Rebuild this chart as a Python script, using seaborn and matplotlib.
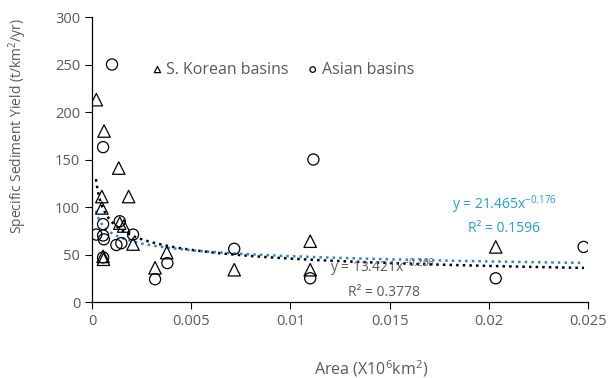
import numpy as np
import pandas as pd
import seaborn as sns
import matplotlib.pyplot as plt

# S. Korean basins (triangles)
kor_area = [0.00022, 0.00061, 0.00135, 0.0005, 0.00185, 0.0005, 0.0014, 0.0016,
            0.00207, 0.00056, 0.00058, 0.00377, 0.00318, 0.00717, 0.0110, 0.0110, 0.02035]
kor_yield = [213, 180, 141, 111, 111, 99, 83, 80,
             61, 48, 45, 52, 36, 34, 64, 34, 58]

# Asian basins (circles)
asia_area = [0.00101, 0.00056, 0.00056, 0.0014, 0.00022, 0.00056, 0.0006, 0.00123, 0.00148,
             0.00207, 0.00056, 0.0038, 0.00318, 0.00717, 0.0110, 0.01116, 0.02035, 0.02478]
asia_yield = [250, 163, 82, 85, 71, 70, 66, 60, 62,
              71, 47, 41, 24, 56, 25, 150, 25, 58]

# power-law trend lines
fit_black = (13.421, -0.266)
fit_blue = (21.465, -0.176)
fit_range = (0.0002, 0.0248)

xticks = [0, 0.005, 0.01, 0.015, 0.02, 0.025]
xtick_labels = ['0', '0.005', '0.01', '0.015', '0.02', '0.025']
yticks = [0, 50, 100, 150, 200, 250, 300]

sns.set_style('white')
plt.rcParams['font.family'] = ['Open Sans', 'DejaVu Sans']
plt.rcParams['mathtext.fontset'] = 'custom'
plt.rcParams['mathtext.rm'] = 'Open Sans'
plt.rcParams['mathtext.it'] = 'Open Sans'

gray = '#595959'
blue = '#1F9FDC'

kor = pd.DataFrame({'area': kor_area, 'ssy': kor_yield})
asia = pd.DataFrame({'area': asia_area, 'ssy': asia_yield})

xs = np.linspace(fit_range[0], fit_range[1], 300)
line_black = pd.DataFrame({'area': xs, 'ssy': fit_black[0] * xs ** fit_black[1]})
line_blue = pd.DataFrame({'area': xs, 'ssy': fit_blue[0] * xs ** fit_blue[1]})

fig, ax = plt.subplots(figsize=(6.09, 3.78), dpi=100)
fig.subplots_adjust(left=0.151, right=0.9655, top=0.955, bottom=0.201)

sns.lineplot(data=line_black, x='area', y='ssy', ax=ax, color='black',
             linestyle=':', linewidth=1.8, zorder=1)
sns.lineplot(data=line_blue, x='area', y='ssy', ax=ax, color='#2C86CA',
             linestyle=':', linewidth=1.8, zorder=1)

sns.scatterplot(data=kor, x='area', y='ssy', ax=ax, marker='^', s=80,
                facecolor='none', edgecolor='black', linewidth=0.9,
                label='S. Korean basins', zorder=3)
sns.scatterplot(data=asia, x='area', y='ssy', ax=ax, marker='o', s=64,
                facecolor='none', edgecolor='black', linewidth=0.9,
                label='Asian basins', zorder=3)

ax.set_xlim(0, 0.025)
ax.set_ylim(0, 300)
ax.set_xticks(xticks)
ax.set_xticklabels(xtick_labels)
ax.set_yticks(yticks)
ax.tick_params(axis='both', labelcolor=gray, color='black', labelsize=10.5, length=5,
               width=0.8, direction='out', bottom=True, left=True)
for s in ['top', 'right']:
    ax.spines[s].set_visible(False)
for s in ['left', 'bottom']:
    ax.spines[s].set_color('black')
    ax.spines[s].set_linewidth(0.9)

ax.set_xlabel('Area (X10$^{6}$km$^{2}$)', color=gray, fontsize=11.5)
ax.set_ylabel('Specific Sediment Yield (t/km$^{2}$/yr)', color=gray, fontsize=10)
ax.xaxis.set_label_coords(0.5625, -0.196)
ax.yaxis.set_label_coords(-0.126, 0.617)

leg = ax.legend(loc='center left', bbox_to_anchor=(0.087, 0.815), ncol=2, frameon=False,
                markerscale=0.5, handletextpad=0.05, columnspacing=1.0, fontsize=11.5,
                handlelength=1.0)
for t in leg.get_texts():
    t.set_color(gray)

ax.text(0.02076, 102, 'y = 21.465x$^{-0.176}$', color=blue, fontsize=10,
        ha='center', va='center')
ax.text(0.02076, 77, 'R² = 0.1596', color=blue, fontsize=10, ha='center', va='center')
ax.text(0.01465, 36, 'y = 13.421x$^{-0.266}$', color=gray, fontsize=10,
        ha='center', va='center')
ax.text(0.0147, 9.5, 'R² = 0.3778', color=gray, fontsize=10, ha='center', va='center')

fig.savefig('out.png', dpi=100)
